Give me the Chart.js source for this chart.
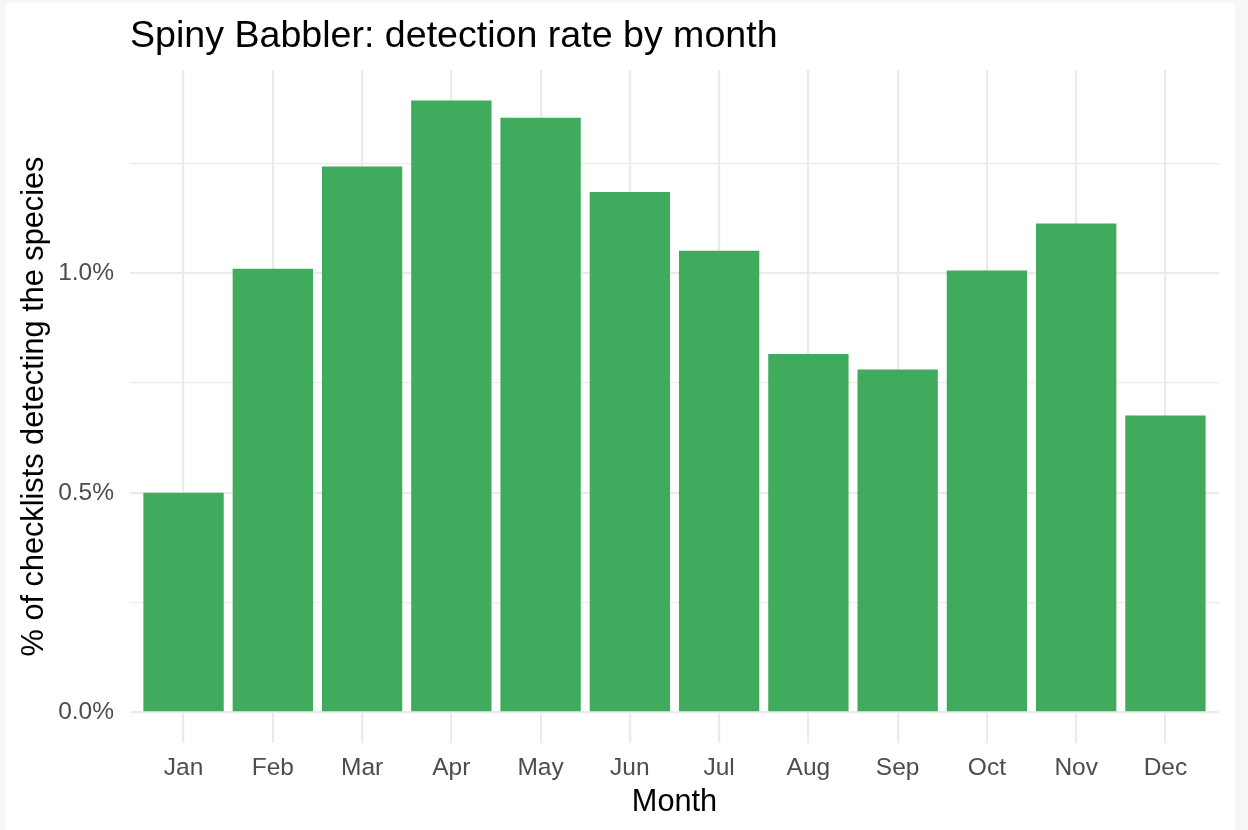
<!DOCTYPE html>
<html>
<head>
<meta charset="utf-8">
<title>Spiny Babbler: detection rate by month</title>
<script src="https://cdn.jsdelivr.net/npm/chart.js@4.4.0/dist/chart.umd.min.js"></script>
<style>
  html, body { margin: 0; padding: 0; background: #f7f7f7; }
  #frame { position: absolute; left: 6px; top: 3px; width: 1229px; height: 827px; background: #ffffff; }
  canvas { display: block; }
</style>
</head>
<body>
<div id="frame"><canvas id="detectionChart" width="1229" height="827"></canvas></div>
<script>
// Data (percent of checklists)
const months = ['Jan', 'Feb', 'Mar', 'Apr', 'May', 'Jun', 'Jul', 'Aug', 'Sep', 'Oct', 'Nov', 'Dec'];
const detectionRate = [0.500, 1.010, 1.243, 1.393, 1.354, 1.185, 1.051, 0.816, 0.781, 1.006, 1.113, 0.676];
const yTickValues = [0, 0.5, 1.0];
const yTickLabels = ['0.0%', '0.5%', '1.0%'];
const yMinorValues = [0.25, 0.75, 1.25];

const FONT = "'Liberation Sans', Arial, Helvetica, sans-serif";
const GRID = '#ebebeb';

// ggplot-style 5% expansion on the value axis
const yPad = 0.05 * Math.max(...detectionRate);

const titlePlugin = {
    id: 'panelTitle',
    afterDraw(chart) {
        const ctx = chart.ctx;
        ctx.save();
        ctx.font = '37.6px ' + FONT;
        ctx.fillStyle = '#000000';
        ctx.textAlign = 'left';
        ctx.textBaseline = 'alphabetic';
        ctx.fillText('Spiny Babbler: detection rate by month', chart.chartArea.left, 44);
        ctx.restore();
    }
};

new Chart(document.getElementById('detectionChart'), {
    type: 'bar',
    data: {
        datasets: [{
            label: 'Detection rate',
            data: months.map((m, i) => ({ x: i, y: detectionRate[i] })),
            backgroundColor: '#41ab5d',
            borderWidth: 0,
            categoryPercentage: 0.9,
            barPercentage: 1.0
        }]
    },
    options: {
        responsive: false,
        animation: false,
        layout: { padding: { top: 67, right: 16, bottom: 0, left: 0 } },
        plugins: {
            legend: { display: false },
            tooltip: { enabled: false },
            title: { display: false }
        },
        scales: {
            x: {
                type: 'linear',
                min: -0.6,
                max: months.length - 0.4,
                offset: false,
                afterBuildTicks(scale) {
                    scale.ticks = months.map((m, i) => ({ value: i }));
                },
                afterFit(scale) { scale.height = 87; },
                ticks: {
                    callback: (value, index) => months[index],
                    color: '#4d4d4d',
                    font: { family: FONT, size: 24.5 },
                    padding: 11,
                    maxRotation: 0,
                    autoSkip: false
                },
                grid: { color: GRID, lineWidth: 2.2, drawTicks: false, offset: false },
                border: { display: false },
                title: {
                    display: true,
                    text: 'Month',
                    color: '#000000',
                    font: { family: FONT, size: 30.7 },
                    padding: { top: 0, bottom: 8.6 }
                }
            },
            y: {
                min: -yPad,
                max: Math.max(...detectionRate) + yPad,
                afterBuildTicks(scale) {
                    scale.ticks = yTickValues.concat(yMinorValues)
                        .sort((a, b) => a - b)
                        .map(v => ({ value: v }));
                },
                afterFit(scale) { scale.width = 124; },
                ticks: {
                    callback: (value) => {
                        const k = yTickValues.indexOf(value);
                        return k >= 0 ? yTickLabels[k] : '';
                    },
                    color: '#4d4d4d',
                    font: { family: FONT, size: 24.5 },
                    padding: 16
                },
                grid: {
                    color: GRID,
                    lineWidth: (c) => (c.tick && yTickValues.includes(c.tick.value)) ? 2.2 : 1.2,
                    drawTicks: false
                },
                border: { display: false },
                title: {
                    display: true,
                    text: '% of checklists detecting the species',
                    color: '#000000',
                    font: { family: FONT, size: 30.7 },
                    padding: { top: 10, bottom: 0 }
                }
            }
        }
    },
    plugins: [titlePlugin]
});
</script>
</body>
</html>
